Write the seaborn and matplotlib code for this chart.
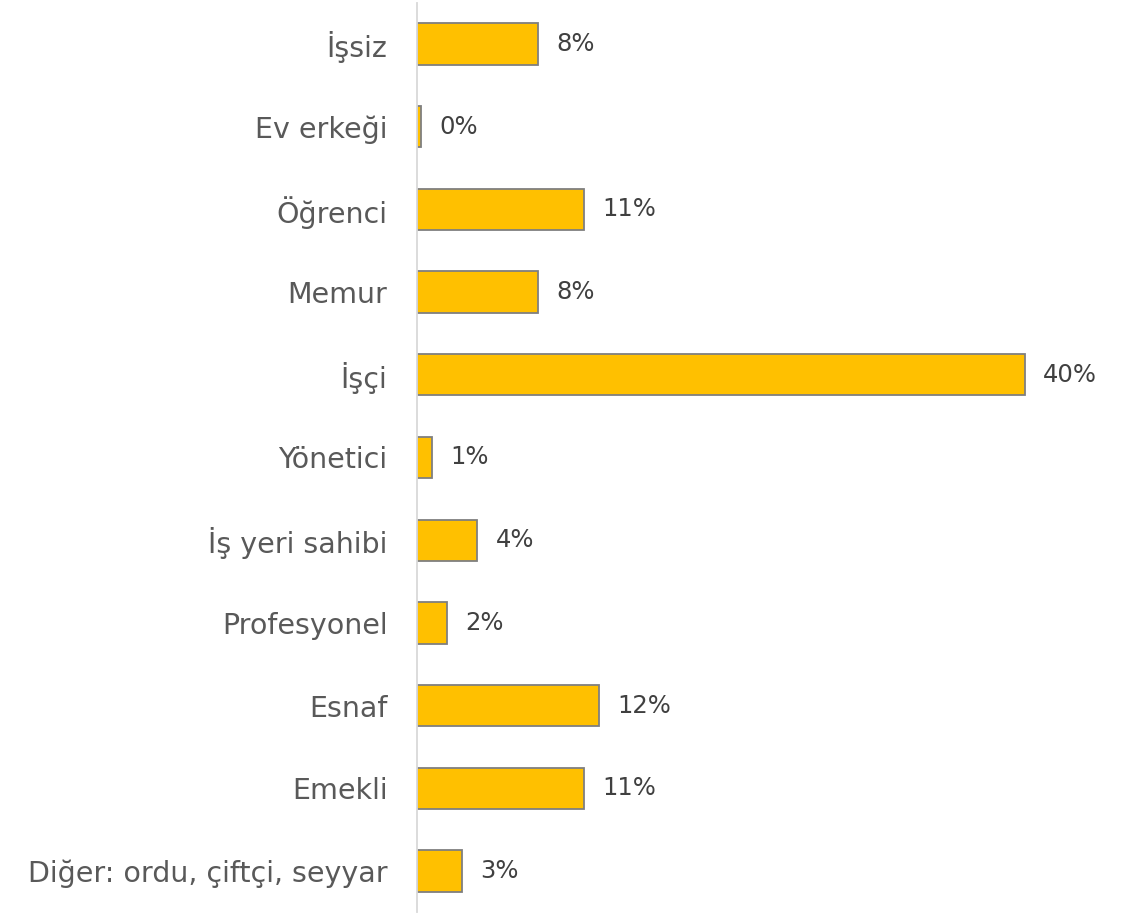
import numpy as np
import pandas as pd
import matplotlib; matplotlib.use("Agg")
import matplotlib.pyplot as plt
import seaborn as sns

categories = ["İşsiz", "Ev erkeği", "Öğrenci", "Memur", "İşçi", "Yönetici",
              "İş yeri sahibi", "Profesyonel", "Esnaf", "Emekli",
              "Diğer: ordu, çiftçi, seyyar"]
values = [8.0, 0.3, 11.0, 8.0, 40.0, 1.0, 4.0, 2.0, 12.0, 11.0, 3.0]

BAR = "#FFC000"
EDGE = "#7F7F7F"
TXT = "#595959"

sns.set_theme(style="white")
plt.rcParams["font.family"] = ["DejaVu Sans"]

df = pd.DataFrame({"cat": categories, "val": values})

fig = plt.figure(figsize=(11.32, 9.15), dpi=100)
ax = fig.add_axes([0.368, 0.003, 0.623, 0.994])
sns.barplot(data=df, x="val", y="cat", orient="h", color=BAR,
            edgecolor=EDGE, linewidth=1.3, width=0.5, saturation=1, ax=ax)

ax.bar_label(ax.containers[0], labels=[f"{v:.0f}%" for v in values],
             padding=13, fontsize=17.5, color="#404040")
ax.set_xlim(0, 46.4)
ax.set_ylim(10.5, -0.5)
ax.set_xlabel("")
ax.set_ylabel("")
ax.set_xticks([])
ax.tick_params(axis="y", length=0, pad=21, labelsize=20.5, labelcolor=TXT)
for s in ["top", "right", "bottom"]:
    ax.spines[s].set_visible(False)
ax.spines["left"].set_color("#D9D9D9")
ax.spines["left"].set_linewidth(1.3)

fig.savefig("out.png", dpi=100)
